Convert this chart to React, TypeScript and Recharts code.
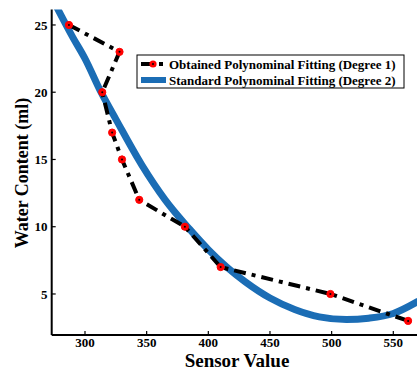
import { LineChart, Line, XAxis, YAxis } from "recharts";

// obtained fitting points (degree 1)
const fitX = [287, 328, 314, 322, 330, 344, 381, 410, 499, 562];
const fitY = [25, 23, 20, 17, 15, 12, 10, 7, 5, 3];

// standard fitting curve (degree 2)
const stdX = [275, 290, 300, 313, 325, 346, 365, 385, 400, 415, 430, 450, 470, 490, 512, 530, 550, 570, 580];
const stdY = [26.7, 24.1, 22.5, 20.0, 18.0, 14.6, 12.0, 9.8, 8.3, 7.0, 5.9, 4.7, 3.85, 3.3, 3.1, 3.2, 3.55, 4.45, 5.0];

const xTicks = [300, 350, 400, 450, 500, 550];
const yTicks = [5, 10, 15, 20, 25];

const fitData = fitX.map((x, i) => ({ x, y: fitY[i] }));
const stdData = stdX.map((x, i) => ({ x, y: stdY[i] }));

const FONT = "'Liberation Serif', 'Times New Roman', serif";
const TOP = 9.5;
const BOTTOM = 335;
const LEFT = 51.7;

const BottomTick = (props: any) => {
  const { x, payload } = props;
  return (
    <g>
      <line x1={x} x2={x} y1={BOTTOM} y2={BOTTOM - 4} stroke="#000" strokeWidth={1.2} />
      <text x={x} y={347} textAnchor="middle" fontSize={13} fontWeight="bold" fontFamily={FONT} fill="#000">
        {payload.value}
      </text>
    </g>
  );
};

const TopTick = (props: any) => {
  const { x } = props;
  return <line x1={x} x2={x} y1={TOP} y2={TOP + 4} stroke="#000" strokeWidth={1.2} />;
};

const LeftTick = (props: any) => {
  const { y, payload } = props;
  return (
    <g>
      <line x1={LEFT} x2={LEFT + 4} y1={y} y2={y} stroke="#000" strokeWidth={1.2} />
      <text x={47.5} y={y} dy="0.35em" textAnchor="end" fontSize={13} fontWeight="bold" fontFamily={FONT} fill="#000">
        {payload.value}
      </text>
    </g>
  );
};

const FitDot = (props: any) => {
  const { cx, cy, index } = props;
  if (cx == null || cy == null) return null;
  return (
    <g key={`d${index}`}>
      <circle cx={cx} cy={cy} r={3.6} fill="#ff0000" stroke="#ff0000" />
      <circle cx={cx} cy={cy} r={1} fill="#000" />
    </g>
  );
};

export default function App() {
  return (
    <div style={{ position: "absolute", left: 0, top: 0, width: 417, height: 370, overflow: "hidden", background: "#fff" }}>
      <LineChart width={440} height={370} margin={{ top: TOP, right: 9.7, bottom: 0, left: 0 }}>
        <XAxis
          xAxisId="b"
          type="number"
          dataKey="x"
          domain={[273, 580]}
          ticks={xTicks}
          allowDataOverflow
          height={35}
          axisLine={{ stroke: "#000", strokeWidth: 2 }}
          tickLine={false}
          tick={BottomTick}
        />
        <XAxis
          xAxisId="t"
          orientation="top"
          type="number"
          dataKey="x"
          domain={[273, 580]}
          ticks={xTicks}
          allowDataOverflow
          height={0}
          axisLine={{ stroke: "#000", strokeWidth: 1.5 }}
          tickLine={false}
          tick={TopTick}
        />
        <YAxis
          type="number"
          dataKey="y"
          domain={[1.95, 26.15]}
          ticks={yTicks}
          allowDataOverflow
          width={LEFT}
          axisLine={{ stroke: "#000", strokeWidth: 2 }}
          tickLine={false}
          tick={LeftTick}
        />
        <Line
          xAxisId="b"
          data={stdData}
          dataKey="y"
          type="monotone"
          stroke="#1b6db5"
          strokeWidth={7}
          dot={false}
          isAnimationActive={false}
        />
        <Line
          xAxisId="b"
          data={fitData}
          dataKey="y"
          type="linear"
          stroke="#000"
          strokeWidth={4}
          strokeDasharray="12 6 4 6"
          dot={FitDot}
          isAnimationActive={false}
        />
      </LineChart>
      <svg width={417} height={370} style={{ position: "absolute", left: 0, top: 0, pointerEvents: "none" }}>
        <text x={237} y={367} textAnchor="middle" fontSize={19} fontWeight="bold" fontFamily={FONT} fill="#000">
          Sensor Value
        </text>
        <text
          x={0}
          y={0}
          transform="translate(28,173) rotate(-90)"
          textAnchor="middle"
          fontSize={18}
          fontWeight="bold"
          fontFamily={FONT}
          fill="#000"
        >
          Water Content (ml)
        </text>
        <rect x={137} y={55} width={267} height={33} fill="#fff" stroke="#000" strokeWidth={1} />
        <line x1={141} x2={166} y1={64} y2={64} stroke="#000" strokeWidth={4} strokeDasharray="12 6 4 6" />
        <circle cx={153} cy={64} r={3.6} fill="#ff0000" />
        <circle cx={153} cy={64} r={1} fill="#000" />
        <text x={169} y={68.5} fontSize={13} fontWeight="bold" fontFamily={FONT} fill="#000">
          Obtained Polynominal Fitting (Degree 1)
        </text>
        <line x1={141} x2={166} y1={80} y2={80} stroke="#1b6db5" strokeWidth={6} />
        <text x={169} y={84.5} fontSize={13} fontWeight="bold" fontFamily={FONT} fill="#000">
          Standard Polynominal Fitting (Degree 2)
        </text>
      </svg>
    </div>
  );
}
